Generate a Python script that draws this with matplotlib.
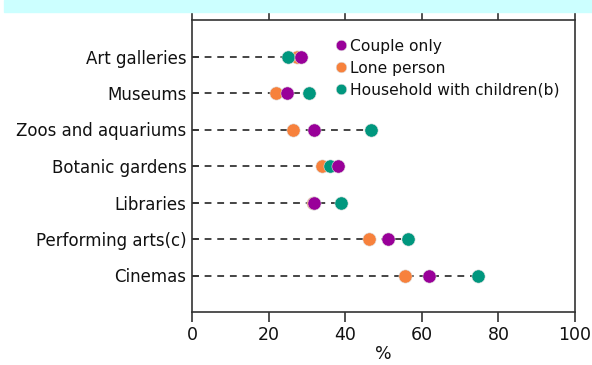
import numpy as np
import matplotlib.pyplot as plt
from matplotlib.patches import Rectangle

# venues, top to bottom
venues = ['Art galleries', 'Museums', 'Zoos and aquariums', 'Botanic gardens',
          'Libraries', 'Performing arts(c)', 'Cinemas']
couple = [28.4, 24.8, 31.9, 38.2, 31.9, 51.3, 61.9]
lone = [27.3, 21.9, 26.5, 33.9, 31.7, 46.3, 55.6]
children = [25.1, 30.6, 46.7, 36.1, 38.8, 56.4, 74.7]

c_purple = '#990099'
c_orange = '#F7813C'
c_teal = '#00977E'

fig = plt.figure(figsize=(5.92, 3.65), dpi=100)
# cyan title strip at the top (title itself cut off)
fig.patches.append(Rectangle((4 / 592, 1 - 12 / 365), 1, 12 / 365,
                             transform=fig.transFigure, color='#CCFFFF', zorder=0))

ax = fig.add_axes([192 / 592, 53 / 365, 383 / 592, 292 / 365])
y = np.arange(len(venues))

maxv = np.max([couple, lone, children], axis=0)
for yi, m in zip(y, maxv):
    ax.plot([0, m], [yi, yi], ls=(0, (3.5, 3)), color='#444444', lw=1.4, zorder=1)

ms = 9.5
ax.plot(lone, y, 'o', color=c_orange, ms=ms, mec='#dddddd', mew=0.4, zorder=3, label='Lone person')
ax.plot(children, y, 'o', color=c_teal, ms=ms, mec='#dddddd', mew=0.4, zorder=4, label='Household with children(b)')
ax.plot(couple, y, 'o', color=c_purple, ms=ms, mec='#dddddd', mew=0.4, zorder=5, label='Couple only')

ax.set_xlim(0, 100)
ax.set_ylim(len(venues), -1)
ax.set_yticks(y)
ax.set_yticklabels(venues, fontsize=12, color='#111111')
ax.set_xticks(range(0, 101, 20))
ax.tick_params(axis='x', labelsize=12.5, direction='out', length=7, width=1.2,
               top=True, colors='#333333', labelcolor='#111111', pad=3)
ax.tick_params(axis='y', direction='in', length=5, width=1.2, colors='#333333',
               labelcolor='#111111', pad=4)
ax.set_xlabel('%', fontsize=12.5, color='#111111', labelpad=1)
for s in ax.spines.values():
    s.set_color('#333333')
    s.set_linewidth(1.2)

h, l = ax.get_legend_handles_labels()
order = [2, 0, 1]
leg = ax.legend([h[i] for i in order], [l[i] for i in order], loc='upper left',
                bbox_to_anchor=(0.342, 0.968), frameon=False, fontsize=11.2,
                handletextpad=0.05, labelspacing=0.45, markerscale=0.8,
                borderaxespad=0.2, handlelength=1.1)
for t in leg.get_texts():
    t.set_color('#111111')

fig.savefig('out.png', dpi=100)
